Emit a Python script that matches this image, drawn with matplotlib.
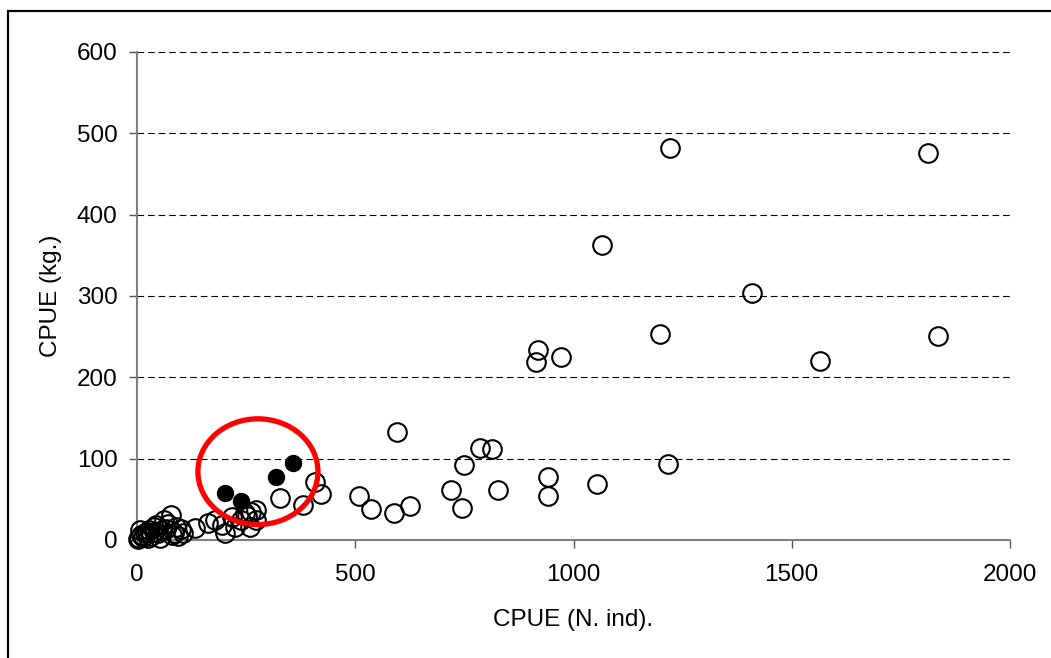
import matplotlib
matplotlib.use("Agg")
import matplotlib.pyplot as plt
from matplotlib.patches import Ellipse, Rectangle

plt.rcParams['font.family'] = ['Liberation Sans', 'DejaVu Sans']

# CPUE in number of individuals (x) and in kg (y), open markers
cpue_n = [1221, 1812, 1065, 1409, 1198, 1835, 919, 914, 971, 1565,
          596, 786, 813, 749, 1217, 942, 719, 827, 1054, 942,
          745, 625, 589, 536, 509, 408, 422, 328, 380,
          133, 163, 179, 195, 202, 218, 225, 238, 247, 252, 261, 273, 273, 259,
          2, 5, 10, 14, 18, 22, 28, 33, 38, 44, 48, 52, 58, 62, 70, 78,
          84, 90, 95, 100, 105, 8, 25, 40, 66, 80]
cpue_kg = [482, 476, 363, 304, 253, 251, 234, 219, 225, 220,
           133, 113, 112, 92, 93, 77, 61, 61, 69, 54,
           39, 42, 33, 38, 54, 71, 57, 52, 43,
           15, 21, 24, 18, 8, 28, 16, 24, 33, 30, 35, 37, 25, 16,
           1, 3, 6, 4, 8, 10, 12, 5, 16, 18, 8, 3, 12, 25, 20, 31,
           9, 16, 5, 14, 8, 12, 2, 10, 14, 6]

# Highlighted samples, filled markers
hl_n = [202, 238, 318, 357]
hl_kg = [58, 48, 77, 95]

# Ring drawn around the highlighted group: centre, width, height (data units)
ring_center = (277, 84)
ring_size = (275, 130)

xticks = [0, 500, 1000, 1500, 2000]
yticks = [0, 100, 200, 300, 400, 500, 600]

fig = plt.figure(figsize=(10.51, 6.58), dpi=100)
ax = fig.add_axes([137 / 1051, 1 - 540 / 658, (1010 - 137) / 1051, (540 - 52) / 658])

ax.set_xlim(0, 2000)
ax.set_ylim(0, 600)
ax.set_xticks(xticks)
ax.set_yticks(yticks)

for yv in yticks[1:]:
    ax.axhline(yv, color='black', lw=0.8, dashes=(6, 3.5), zorder=1)

ax.plot(cpue_n, cpue_kg, 'o', ms=13.4, mfc='none', mec='black', mew=1.5,
        clip_on=False, zorder=3)
ax.plot(hl_n, hl_kg, 'o', ms=11.5, mfc='black', mec='black', mew=1,
        clip_on=False, zorder=4)

ax.add_patch(Ellipse(ring_center, ring_size[0], ring_size[1], fill=False,
                     ec='#ff0000', lw=3.8, zorder=5))

for side in ('top', 'right'):
    ax.spines[side].set_visible(False)
for side in ('left', 'bottom'):
    ax.spines[side].set_color('#808080')
    ax.spines[side].set_linewidth(1.5)

ax.tick_params(axis='both', direction='out', length=6, width=1, color='#555555',
               labelsize=17.5, labelcolor='black')
ax.tick_params(axis='y', pad=8)
ax.tick_params(axis='x', pad=11)

ax.set_xlabel('CPUE (N. ind).', fontsize=17.5, labelpad=17)
ax.set_ylabel('CPUE (kg.)', fontsize=17.5, labelpad=11)

# Outer frame of the figure
fig.patches.append(Rectangle((8 / 1051, -0.2), 1.2, 1.2 + (658 - 11) / 658 - 1,
                             transform=fig.transFigure, fill=False,
                             ec='black', lw=1.6))

fig.savefig('out.png', dpi=100)
